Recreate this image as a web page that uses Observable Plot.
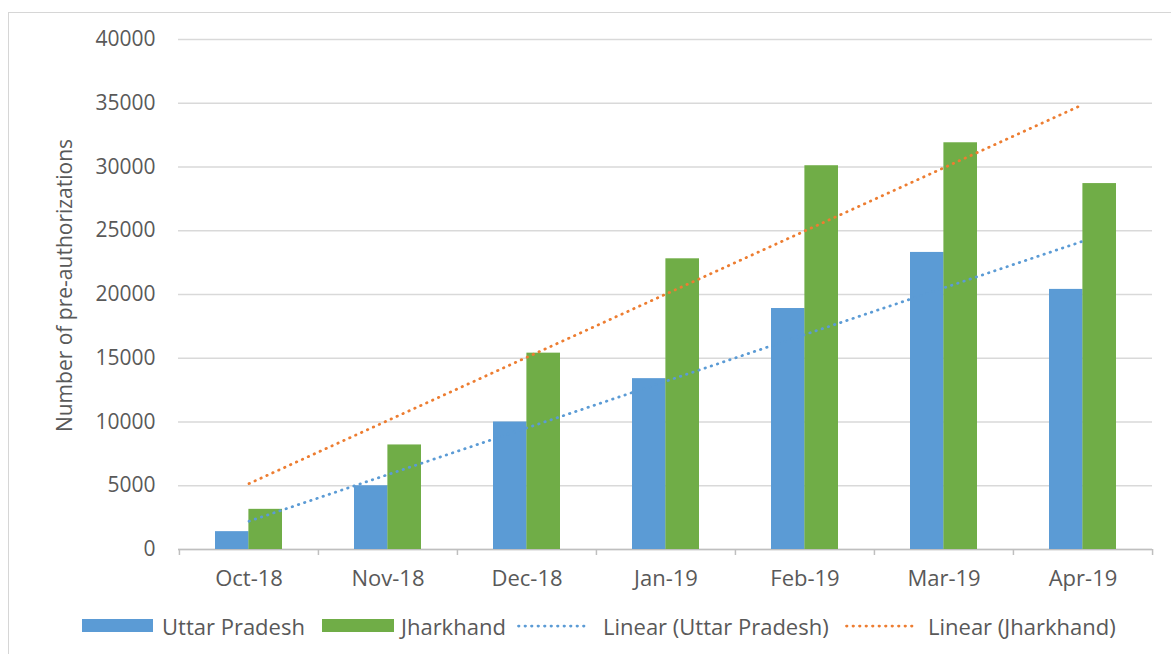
<!DOCTYPE html>
<html>
<head>
<meta charset="utf-8">
<script src="https://cdn.jsdelivr.net/npm/d3@7"></script>
<script src="https://cdn.jsdelivr.net/npm/@observablehq/plot@0.6"></script>
<style>
  html, body { margin: 0; padding: 0; background: #fff; overflow: hidden; }
  #wrap { position: relative; width: 1171px; height: 654px; overflow: hidden; font-family: "Open Sans", sans-serif; color: #595959; }
  #frame { position: absolute; left: 8px; top: 12px; width: 1200px; height: 700px; border: 1.5px solid #d6d6d6; box-sizing: border-box; }
  #chart { position: absolute; left: 0; top: 0; }
  .lg { position: absolute; font-size: 22px; line-height: 26px; top: 613px; white-space: nowrap; }
  .sw { position: absolute; top: 619px; height: 13px; }
  .ln { position: absolute; top: 620px; }
</style>
</head>
<body>
<div id="wrap">
  <div id="frame"></div>
  <div id="chart"></div>
  <div class="sw" style="left:82px;width:71px;background:#5B9BD5"></div>
  <div class="lg" style="left:162px">Uttar Pradesh</div>
  <div class="sw" style="left:322px;width:72px;background:#70AD47"></div>
  <div class="lg" style="left:401px">Jharkhand</div>
  <svg class="ln" style="left:517px" width="72" height="12"><line x1="1.5" x2="71" y1="6" y2="6" stroke="#5B9BD5" stroke-width="2.75" stroke-linecap="round" stroke-dasharray="0.5 6"/></svg>
  <div class="lg" style="left:603px">Linear (Uttar Pradesh)</div>
  <svg class="ln" style="left:845px" width="72" height="12"><line x1="1.5" x2="71" y1="6" y2="6" stroke="#ED7D31" stroke-width="2.75" stroke-linecap="round" stroke-dasharray="0.5 6"/></svg>
  <div class="lg" style="left:928px">Linear (Jharkhand)</div>
</div>
<script>
const months = ["Oct-18", "Nov-18", "Dec-18", "Jan-19", "Feb-19", "Mar-19", "Apr-19"];
const uttarPradesh = [1400, 5000, 10000, 13400, 18900, 23300, 20400];
const jharkhand = [3150, 8200, 15400, 22800, 30100, 31900, 28700];
const yTicks = [0, 5000, 10000, 15000, 20000, 25000, 30000, 35000, 40000];
const yLabel = "Number of pre-authorizations";

const upData = months.map((m, i) => ({month: m, value: uttarPradesh[i]}));
const jhData = months.map((m, i) => ({month: m, value: jharkhand[i]}));

// Excel-style linear trendline (least squares over category index)
function trend(values) {
  const n = values.length;
  const xs = d3.range(n);
  const mx = d3.mean(xs), my = d3.mean(values);
  const slope = d3.sum(xs, (x, i) => (x - mx) * (values[i] - my)) / d3.sum(xs, x => (x - mx) ** 2);
  return months.map((m, i) => ({month: m, value: my + slope * (i - mx)}));
}
const upTrend = trend(uttarPradesh);
const jhTrend = trend(jharkhand);

const W = 1171, H = 600;
const margins = {marginLeft: 178, marginRight: 19, marginTop: 39, marginBottom: 51};
const xOpts = {type: "band", domain: months, paddingInner: 0.52, paddingOuter: 0.26, range: [margins.marginLeft, W - margins.marginRight]};
const xs = Plot.scale({x: xOpts});
const bw = xs.bandwidth;
const step = bw / (1 - 0.52);

const chart = Plot.plot({
  width: W,
  height: H,
  ...margins,
  style: {fontFamily: "Open Sans, sans-serif", fontSize: "21px", color: "#595959", background: "transparent", overflow: "visible"},
  x: {...xOpts, axis: null},
  y: {domain: [0, 40000], ticks: yTicks, label: null, axis: null},
  marks: [
    Plot.gridY(yTicks, {stroke: "#d9d9d9", strokeOpacity: 1, strokeWidth: 1.5}),
    Plot.ruleY([0], {stroke: "#bfbfbf", strokeWidth: 1.5}),
    Plot.ruleX(months, {x: d => d, y1: 0, y2: 0, dx: -step / 2, insetBottom: -6, stroke: "#bfbfbf", strokeWidth: 1.5}),
    Plot.ruleX([months[months.length - 1]], {x: d => d, y1: 0, y2: 0, dx: step / 2, insetBottom: -6, stroke: "#bfbfbf", strokeWidth: 1.5}),
    Plot.barY(upData, {x: "month", y: "value", fill: "#5B9BD5", insetRight: bw / 2}),
    Plot.barY(jhData, {x: "month", y: "value", fill: "#70AD47", insetLeft: bw / 2}),
    Plot.line(upTrend, {x: "month", y: "value", stroke: "#5B9BD5", strokeWidth: 2.75, strokeLinecap: "round", strokeDasharray: "0.5 6"}),
    Plot.line(jhTrend, {x: "month", y: "value", stroke: "#ED7D31", strokeWidth: 2.75, strokeLinecap: "round", strokeDasharray: "0.5 6"}),
    Plot.axisY(yTicks, {tickSize: 0, tickPadding: 23, tickFormat: d => String(d), fill: "#595959", fontSize: 21, label: null}),
    Plot.axisX(months, {tickSize: 0, tickPadding: 21, fill: "#595959", fontSize: 22, label: null}),
    Plot.text([yLabel], {frameAnchor: "left", textAnchor: "middle", rotate: -90, dx: -113, dy: -9, fill: "#595959", fontSize: 21})
  ]
});
document.getElementById("chart").appendChild(chart);
</script>
</body>
</html>
